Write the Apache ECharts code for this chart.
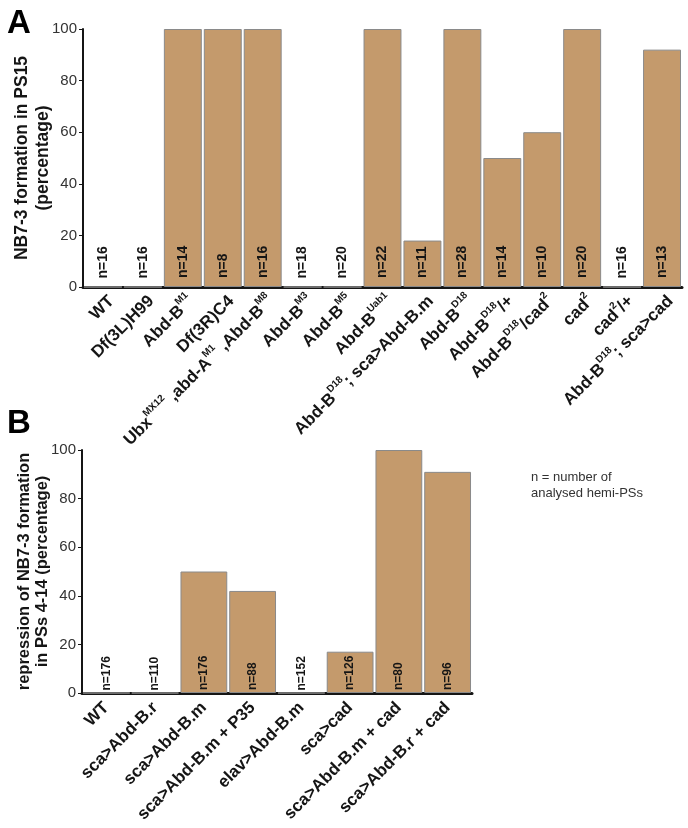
<!DOCTYPE html>
<html><head><meta charset="utf-8">
<script src="https://cdn.jsdelivr.net/npm/echarts@6/dist/echarts.min.js"></script>
<style>html,body{margin:0;padding:0;background:#fff}#c{width:688px;height:828px}</style>
</head><body><div id="c"></div>
<script>
const catsA = ['WT','Df(3L)H99','Abd-B^{M1}','Df(3R)C4','Ubx^{MX12} ,abd-A^{M1} ,Abd-B^{M8}','Abd-B^{M3}','Abd-B^{M5}','Abd-B^{Uab1}','Abd-B^{D18}; sca>Abd-B.m','Abd-B^{D18}','Abd-B^{D18}/+','Abd-B^{D18}/cad^{2}','cad^{2}','cad^{2}/+','Abd-B^{D18}; sca>cad'];
const valsA = [0,0,100,100,100,0,0,100,18,100,50,60,100,0,92];
const nA = [16,16,14,8,16,18,20,22,11,28,14,10,20,16,13];

const catsB = ['WT','sca>Abd-B.r','sca>Abd-B.m','sca>Abd-B.m + P35','elav>Abd-B.m','sca>cad','sca>Abd-B.m + cad','sca>Abd-B.r + cad'];
const valsB = [0,0,50,42,0,17,100,91];
const nB = [176,110,176,88,152,126,80,96];

const yTicks = [0,20,40,60,80,100];

const FONT = 'Liberation Sans, Arial, sans-serif';
const BAR = '#C49A6C';
const INK = '#151515';

function richLabel(s){
  let out = '';
  const re = /\^\{([^}]*)\}/g;
  let last = 0, m;
  while ((m = re.exec(s)) !== null){
    if (m.index > last) out += '{i|' + s.slice(last, m.index) + '}';
    out += '{s|' + m[1] + '}';
    last = re.lastIndex;
  }
  if (last < s.length) out += '{i|' + s.slice(last) + '}';
  return out;
}
function richStyles(fs, lh){
  return {
    i: {fontSize: fs, fontWeight: 'bold', color: INK, fontFamily: FONT, lineHeight: lh},
    s: {fontSize: Math.round(fs*0.6), fontWeight: 'bold', color: INK, fontFamily: FONT, lineHeight: lh - 10, verticalAlign: 'top'}
  };
}

function yAxisCfg(gi, name, fs, lh, gap){
  return {
    type: 'value', gridIndex: gi, min: 0, max: 100, interval: 20,
    name: name, nameLocation: 'middle', nameGap: gap, nameMoveOverlap: false,
    nameTextStyle: {fontSize: fs, fontWeight: 'bold', lineHeight: lh, color: INK, fontFamily: FONT},
    axisLine: {show: true, lineStyle: {color: INK, width: 2}},
    axisTick: {show: true, length: 4, lineStyle: {color: INK, width: 1}},
    axisLabel: {fontSize: 15, color: '#333', margin: 6, fontFamily: FONT,
      formatter: v => yTicks.includes(v) ? String(v) : ''},
    splitLine: {show: false}
  };
}
function xAxisCfg(gi, cats, fs, lh, va, margin){
  return {
    type: 'category', gridIndex: gi, data: cats,
    axisLine: {show: true, lineStyle: {color: INK, width: 3}},
    axisTick: {show: false},
    axisLabel: {interval: 0, rotate: 45, margin: margin, verticalAlign: va,
      formatter: v => richLabel(v), rich: richStyles(fs, lh)}
  };
}
function seriesCfg(gi, vals, ns, fs, dist, gap){
  return {
    type: 'bar', xAxisIndex: gi, yAxisIndex: gi, data: vals,
    barCategoryGap: gap,
    itemStyle: {color: BAR, borderColor: '#8a8a8a', borderWidth: 1},
    label: {show: true, position: 'insideBottom', rotate: 90, align: 'left', verticalAlign: 'middle',
      distance: dist, fontSize: fs, fontWeight: 'bold', color: INK, fontFamily: FONT,
      formatter: p => 'n=' + ns[p.dataIndex]},
    emphasis: {disabled: true}, animation: false
  };
}

const chart = echarts.init(document.getElementById('c'), null, {renderer: 'canvas'});
chart.setOption({
  animation: false,
  backgroundColor: '#fff',
  grid: [
    {left: 83, top: 29, width: 599, height: 258, containLabel: false, outerBoundsMode: 'none'},
    {left: 82, top: 450, width: 390, height: 243, containLabel: false, outerBoundsMode: 'none'}
  ],
  xAxis: [xAxisCfg(0, catsA, 17, 24, 'top', 3), xAxisCfg(1, catsB, 17, 20, 'middle', 12)],
  yAxis: [
    yAxisCfg(0, 'NB7-3 formation in PS15\n(percentage)', 17.5, 21, 29),
    yAxisCfg(1, 'repression of NB7-3 formation\nin PSs 4-14 (percentage)', 16.5, 18, 31)
  ],
  series: [
    seriesCfg(0, valsA, nA, 14, 9, '5%'),
    seriesCfg(1, valsB, nB, 12, 3, '4%')
  ],
  graphic: [
    {type: 'text', left: 7, top: 7, style: {text: 'A', fontSize: 33, fontWeight: 'bold', fill: '#000', fontFamily: FONT}},
    {type: 'text', left: 7, top: 407, style: {text: 'B', fontSize: 33, fontWeight: 'bold', fill: '#000', fontFamily: FONT}},
    {type: 'text', left: 531, top: 469, style: {text: 'n = number of\nanalysed hemi-PSs', fontSize: 13, lineHeight: 16, fill: '#333', fontFamily: FONT}}
  ]
});
</script>
</body></html>
